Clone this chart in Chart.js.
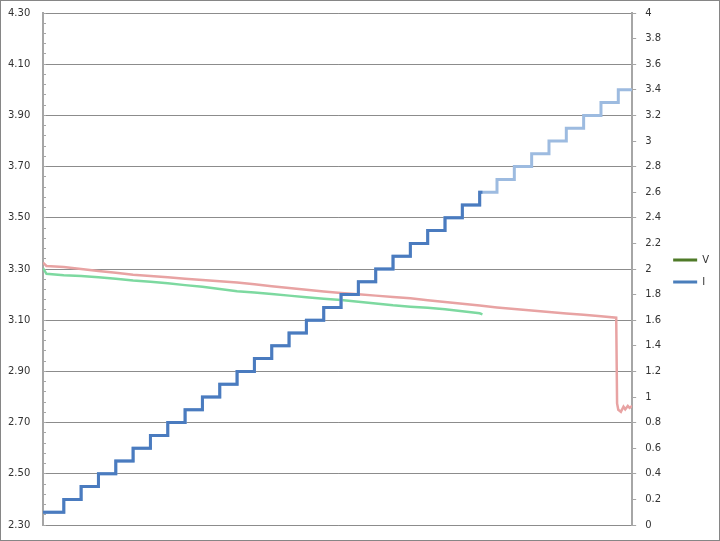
<!DOCTYPE html>
<html>
<head>
<meta charset="utf-8">
<script src="https://cdn.jsdelivr.net/npm/chart.js@4.4.1/dist/chart.umd.min.js"></script>
<style>
  html, body { margin: 0; padding: 0; background: #fff; }
  #frame { width: 720px; height: 541px; box-sizing: border-box; border: 1px solid #868686; }
  canvas { display: block; }
</style>
</head>
<body>
<div id="frame"><canvas id="chart" width="718" height="539"></canvas></div>
<script>
// current set-points, one per step (A); the step changes at each whole time unit
const stepLevels = [0.1, 0.2, 0.3, 0.4, 0.5, 0.6, 0.7, 0.8, 0.9, 1.0, 1.1, 1.2,
  1.3, 1.4, 1.5, 1.6, 1.7, 1.8, 1.9, 2.0, 2.1, 2.2, 2.3, 2.4, 2.5, 2.6,
  2.7, 2.8, 2.9, 3.0, 3.1, 3.2, 3.3, 3.4];
const runStart = -0.2;
const run1Steps = 26;      // first run stopped on the 2.6 A step
const run1End = 25.16;
const run2End = 33.8;

// voltage, first run (green)
const vTime1 = [-0.2, 0, 1, 2, 3, 4, 5, 6, 7, 8, 9, 10, 11, 12, 13, 14, 15, 16,
  17, 18, 19, 20, 21, 22, 23, 24, 25, 25.16];
const vRun1 = [3.303, 3.281, 3.276, 3.273, 3.268, 3.262, 3.255, 3.250, 3.244,
  3.237, 3.231, 3.222, 3.213, 3.208, 3.202, 3.196, 3.190, 3.184, 3.179, 3.172,
  3.165, 3.158, 3.153, 3.149, 3.143, 3.135, 3.127, 3.123];

// voltage, second run (red)
const vTime2 = [-0.2, 0, 1, 2, 3, 4, 5, 6, 7, 8, 9, 10, 11, 12, 13, 14, 15, 16,
  17, 18, 19, 20, 21, 22, 23, 24, 25, 26, 27, 28, 29, 30, 31, 32,
  32.88, 32.93, 33.0, 33.15, 33.3, 33.4, 33.55, 33.65, 33.8];
const vRun2 = [3.325, 3.312, 3.308, 3.300, 3.292, 3.285, 3.278, 3.273, 3.268,
  3.262, 3.257, 3.252, 3.247, 3.240, 3.233, 3.226, 3.219, 3.212, 3.206, 3.201,
  3.196, 3.191, 3.186, 3.178, 3.171, 3.164, 3.157, 3.150, 3.144, 3.138, 3.132,
  3.126, 3.121, 3.115,
  3.110, 2.775, 2.750, 2.742, 2.762, 2.752, 2.765, 2.758, 2.765];

// axes
const vMin = 2.3, vMax = 4.3, vMajor = 0.2, vMinor = 0.04;
const iMin = 0, iMax = 4, iStep = 0.2;

const legendNames = ['V', 'I'];
const legendColors = ['#4f7a28', '#4a7ebb'];

const gridGray = '#8c8c8c';
const axisGray = '#a6a6a6';

// stepped current trace: value holds until the next step time
function stepPoints(levels, end) {
  const pts = levels.map((v, i) => ({ x: i === 0 ? runStart : i, y: v }));
  pts.push({ x: end, y: levels[levels.length - 1] });
  return pts;
}

function zip(xs, ys) {
  return xs.map((x, i) => ({ x: x, y: ys[i] }));
}

function isMajor(value) {
  const k = (value - vMin) / vMajor;
  return Math.abs(k - Math.round(k)) < 1e-6;
}

Chart.defaults.font.family = "'DejaVu Sans', Verdana, sans-serif";
Chart.defaults.font.size = 10;
Chart.defaults.color = '#333333';

const ctx = document.getElementById('chart').getContext('2d');

new Chart(ctx, {
  type: 'line',
  data: {
    datasets: [
      {
        label: 'I run 1',
        data: stepPoints(stepLevels.slice(0, run1Steps), run1End),
        yAxisID: 'yI',
        borderColor: '#4a7bbf',
        borderWidth: 3,
        stepped: true
      },
      {
        label: 'I run 2',
        data: stepPoints(stepLevels, run2End),
        yAxisID: 'yI',
        borderColor: '#9dbbe0',
        borderWidth: 3,
        stepped: true
      },
      {
        label: 'V run 1',
        data: zip(vTime1, vRun1),
        yAxisID: 'yV',
        borderColor: '#7dd9a0',
        borderWidth: 2.5
      },
      {
        label: 'V run 2',
        data: zip(vTime2, vRun2),
        yAxisID: 'yV',
        borderColor: '#e8a3a3',
        borderWidth: 2.5
      }
    ]
  },
  options: {
    responsive: false,
    animation: false,
    events: [],
    elements: {
      point: { radius: 0 },
      line: { tension: 0, borderCapStyle: 'butt', borderJoinStyle: 'miter' }
    },
    layout: { padding: { top: 12, bottom: 15, left: 7, right: 0 } },
    plugins: {
      tooltip: { enabled: false },
      legend: {
        position: 'right',
        align: 'center',
        // empty title only nudges the items down a little
        title: { display: true, text: '', font: { size: 2, lineHeight: 1 }, padding: 1 },
        labels: {
          usePointStyle: true,
          pointStyleWidth: 24,
          boxHeight: 10,
          padding: 12,
          color: '#333333',
          font: { size: 10 },
          generateLabels: () => legendNames.map((name, i) => ({
            text: name,
            strokeStyle: legendColors[i],
            fillStyle: legendColors[i],
            lineWidth: 3,
            pointStyle: 'line',
            hidden: false,
            datasetIndex: i
          }))
        }
      }
    },
    scales: {
      x: {
        type: 'linear',
        min: runStart,
        max: run2End,
        display: false
      },
      yV: {
        type: 'linear',
        position: 'left',
        min: vMin,
        max: vMax,
        afterFit: (scale) => { scale.width = 35; },
        afterBuildTicks: (scale) => {
          const n = Math.round((vMax - vMin) / vMinor);
          const ticks = [];
          for (let k = 0; k <= n; k++) ticks.push({ value: +(vMin + k * vMinor).toFixed(2) });
          scale.ticks = ticks;
        },
        ticks: {
          autoSkip: false,
          padding: 0,
          crossAlign: 'far',
          callback: (value) => isMajor(value) ? value.toFixed(2) : ''
        },
        grid: {
          color: (c) => c.tick && isMajor(c.tick.value) ? gridGray : 'rgba(0,0,0,0)',
          tickColor: axisGray,
          tickLength: -3,
          lineWidth: 1
        },
        border: { color: axisGray, width: 2 }
      },
      yI: {
        type: 'linear',
        position: 'right',
        min: iMin,
        max: iMax,
        afterFit: (scale) => { scale.width = 29; },
        ticks: {
          stepSize: iStep,
          autoSkip: false,
          padding: 9,
          font: { size: 10, lineHeight: 0.6 },
          callback: (value) => String(+value.toFixed(1))
        },
        grid: {
          drawOnChartArea: false,
          tickColor: axisGray,
          tickLength: 4
        },
        border: { color: axisGray, width: 2 }
      }
    }
  }
});
</script>
</body>
</html>
